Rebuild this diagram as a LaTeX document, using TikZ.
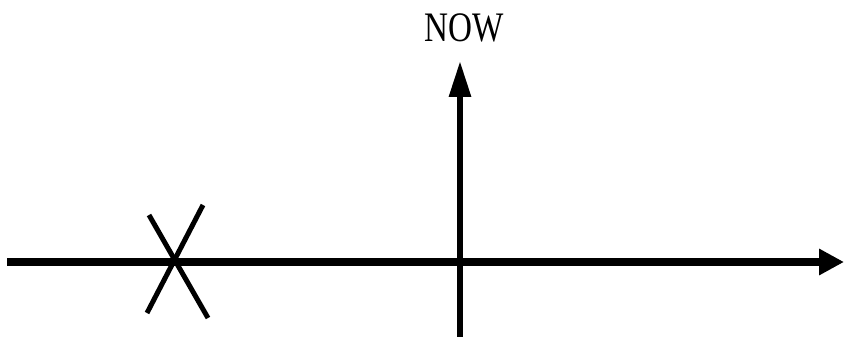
\documentclass[tikz,border=0pt]{standalone}
\usepackage{fontspec}
\setmainfont{Liberation Serif}
\usetikzlibrary{arrows.meta}
\tikzset{
  axis/.style={line width=7.5pt, draw=black},
  nowaxis/.style={line width=6pt, draw=black},
  cross/.style={line width=5pt, draw=black},
  lbl/.style={inner sep=0pt, anchor=base, font=\fontsize{42}{42}\selectfont}
}
\begin{document}
\begin{tikzpicture}[x=1pt,y=-1pt]
\useasboundingbox (0,0) rectangle (844,337);
\coordinate (hstart) at (7,262);
\coordinate (hend) at (844,262);
\coordinate (vstart) at (460,337);
\coordinate (vend) at (460,61);
\coordinate (x1a) at (149,215);
\coordinate (x1b) at (208,318);
\coordinate (x2a) at (203,205);
\coordinate (x2b) at (147,313);
\draw[axis, -{Triangle[length=25pt,width=25pt]}] (hstart) -- (hend);
\draw[nowaxis, -{Triangle[length=36pt,width=21pt]}] (vstart) -- (vend);
\draw[cross] (x1a) -- (x1b);
\draw[cross] (x2a) -- (x2b);
\node[lbl] (now) at (464.5,42) {\scalebox{0.79}[1]{NOW}};
\end{tikzpicture}
\end{document}
